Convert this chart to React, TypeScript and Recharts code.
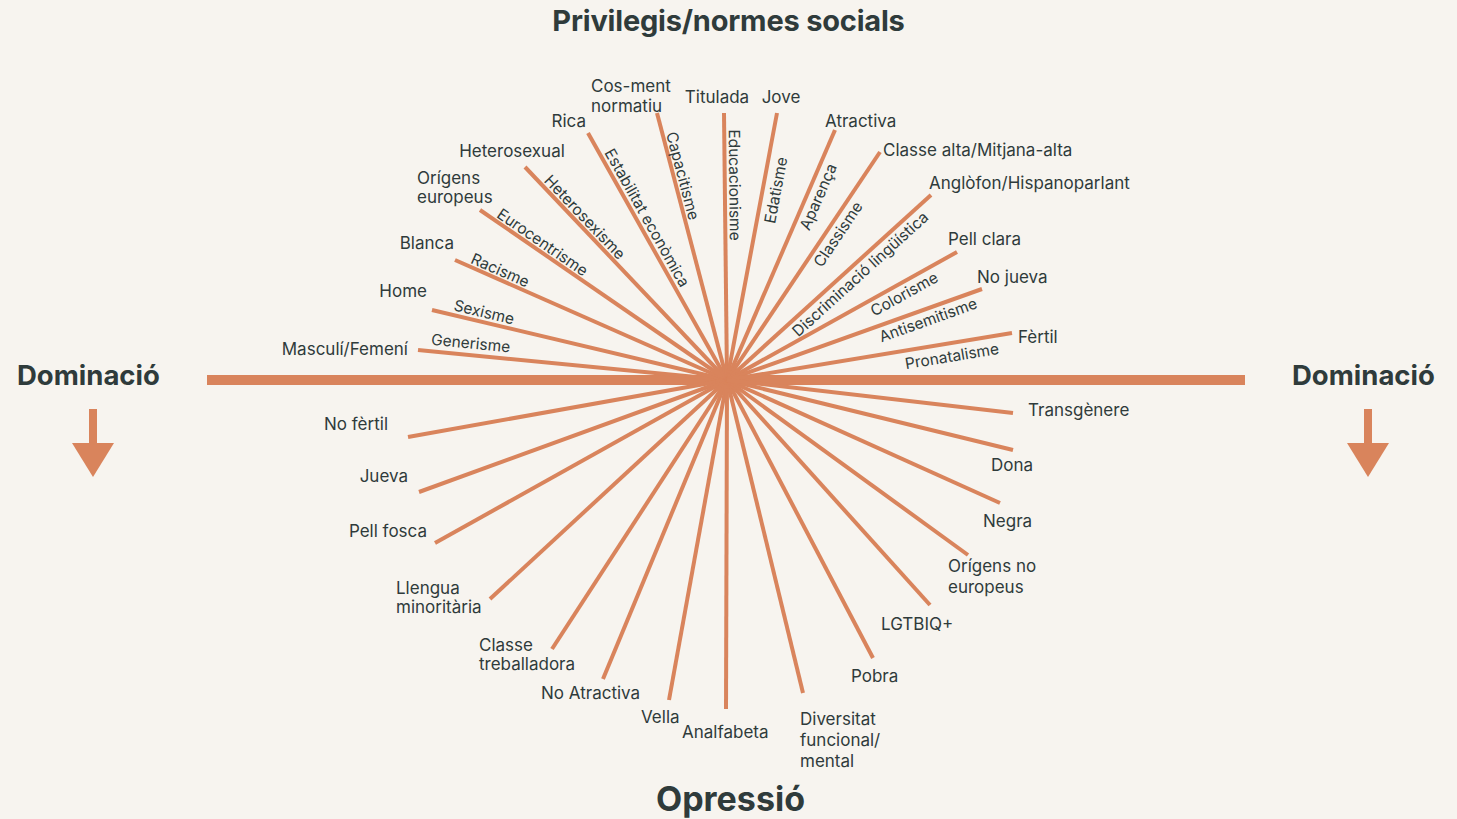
import React from 'react';
import {
  ScatterChart,
  Scatter,
  XAxis,
  YAxis,
  ReferenceLine,
} from 'recharts';

// upper half: privileges (end of each spoke, center = 0,0)
const privileges = [
  'Masculí/Femení', 'Home', 'Blanca', 'Orígens europeus', 'Heterosexual', 'Rica',
  'Cos-ment normatiu', 'Titulada', 'Jove', 'Atractiva', 'Classe alta/Mitjana-alta',
  'Anglòfon/Hispanoparlant', 'Pell clara', 'No jueva', 'Fèrtil',
];
const privilegeX = [-309, -295, -272, -247, -202, -139, -70, -3, 50, 108, 153, 204, 230, 255, 285];
const privilegeY = [30, 70, 120, 170, 213, 247, 267, 267, 267, 250, 228, 185, 128, 91, 47];

// name of the discrimination written along each privilege spoke
const discriminations = [
  'Generisme', 'Sexisme', 'Racisme', 'Eurocentrisme', 'Heterosexisme', 'Estabilitat econòmica',
  'Capacitisme', 'Educacionisme', 'Edatisme', 'Aparença', 'Classisme',
  'Discriminació lingüística', 'Colorisme', 'Antisemitisme', 'Pronatalisme',
];

// lower half: oppressions
const oppressions = [
  'No fèrtil', 'Jueva', 'Pell fosca', 'Llengua minoritària', 'Classe treballadora',
  'No Atractiva', 'Vella', 'Analfabeta', 'Diversitat funcional/ mental', 'Pobra',
  'LGTBIQ+', 'Orígens no europeus', 'Negra', 'Dona', 'Transgènere',
];
const oppressionX = [-319, -308, -292, -237, -175, -124, -58, -1, 76, 146, 203, 241, 273, 286, 286];
const oppressionY = [-57, -112, -163, -219, -269, -299, -320, -329, -313, -278, -225, -175, -123, -70, -33];

const ORANGE = '#d9845c';
const INK = '#2f3b3b';
const BG = '#f7f4ef';
const FONT = 'Inter, "Noto Sans", sans-serif';

// label placement relative to the spoke end: [dx, dy, anchor, lines, lineHeight]
type Place = [number, number, 'start' | 'middle' | 'end', string[], number?];
const endLabels: Record<string, Place> = {
  'Masculí/Femení': [-10, 5, 'end', ['Masculí/Femení']],
  Home: [-5, -13, 'end', ['Home']],
  Blanca: [-1, -11, 'end', ['Blanca']],
  'Orígens europeus': [-63, -26, 'start', ['Orígens', 'europeus'], 19],
  Heterosexual: [-13, -10, 'middle', ['Heterosexual']],
  Rica: [-2, -6, 'end', ['Rica']],
  'Cos-ment normatiu': [-66, -21, 'start', ['Cos-ment', 'normatiu'], 20],
  Titulada: [-7, -10, 'middle', ['Titulada']],
  Jove: [4, -10, 'middle', ['Jove']],
  Atractiva: [-10, -3, 'start', ['Atractiva']],
  'Classe alta/Mitjana-alta': [3, 4, 'start', ['Classe alta/Mitjana-alta']],
  'Anglòfon/Hispanoparlant': [-2, -6, 'start', ['Anglòfon/Hispanoparlant']],
  'Pell clara': [-9, -7, 'start', ['Pell clara']],
  'No jueva': [-5, -6, 'start', ['No jueva']],
  Fèrtil: [6, 10, 'start', ['Fèrtil']],
  'No fèrtil': [-20, -7, 'end', ['No fèrtil']],
  Jueva: [-11, -10, 'end', ['Jueva']],
  'Pell fosca': [-8, -6, 'end', ['Pell fosca']],
  'Llengua minoritària': [-94, -5, 'start', ['Llengua', 'minoritària'], 19],
  'Classe treballadora': [-73, 2, 'start', ['Classe', 'treballadora'], 19],
  'No Atractiva': [-62, 20, 'start', ['No Atractiva']],
  Vella: [-28, 23, 'start', ['Vella']],
  Analfabeta: [-44, 29, 'start', ['Analfabeta']],
  'Diversitat funcional/ mental': [-3, 32, 'start', ['Diversitat', 'funcional/', 'mental'], 21],
  Pobra: [-22, 24, 'start', ['Pobra']],
  'LGTBIQ+': [-49, 25, 'start', ['LGTBIQ+']],
  'Orígens no europeus': [-20, 17, 'start', ['Orígens no', 'europeus'], 21],
  Negra: [-17, 24, 'start', ['Negra']],
  Dona: [-22, 21, 'start', ['Dona']],
  Transgènere: [15, 3, 'start', ['Transgènere']],
};

// rotated labels: [fraction along spoke, perpendicular offset]
const alongLabels: Record<string, [number, number]> = {
  Generisme: [0.833, 12],
  Sexisme: [0.831, 10],
  Racisme: [0.847, 9],
  Eurocentrisme: [0.767, 9],
  Heterosexisme: [0.736, 9],
  'Estabilitat econòmica': [0.637, 10],
  Capacitisme: [0.756, 9],
  Educacionisme: [0.73, 10],
  Edatisme: [0.72, -13],
  Aparença: [0.751, -11],
  Classisme: [0.666, -11],
  'Discriminació lingüística': [0.617, -11],
  Colorisme: [0.747, -11],
  Antisemitisme: [0.774, -11],
  Pronatalisme: [0.782, -13],
};

const spokes = [
  ...privileges.map((name, i) => ({ name, x: privilegeX[i], y: privilegeY[i] })),
  ...oppressions.map((name, i) => ({ name, x: oppressionX[i], y: oppressionY[i] })),
];

const alongData = discriminations.map((name, i) => {
  const t = alongLabels[name][0];
  return { name, x: privilegeX[i] * t, y: privilegeY[i] * t, ex: privilegeX[i], ey: privilegeY[i] };
});

const EndLabel = (props: any) => {
  const { cx, cy, payload } = props;
  const p = endLabels[payload.name];
  if (!p) return null;
  const [dx, dy, anchor, lines, lh = 20] = p;
  return (
    <text x={cx + dx} y={cy + dy} textAnchor={anchor} fill={INK} fontSize={17} fontFamily={FONT}>
      {lines.map((l, i) => (
        <tspan key={l} x={cx + dx} dy={i === 0 ? 0 : lh}>{l}</tspan>
      ))}
    </text>
  );
};

const AlongLabel = (props: any) => {
  const { cx, cy, payload } = props;
  const perp = alongLabels[payload.name][1];
  const { ex, ey } = payload;
  // reading direction in screen space (1 unit = 1 px)
  const theta = ex <= 0 ? Math.atan2(ey, -ex) : Math.atan2(-ey, ex);
  const px = cx + perp * Math.sin(theta);
  const py = cy - perp * Math.cos(theta);
  const deg = (theta * 180) / Math.PI;
  return (
    <text
      x={px}
      y={py}
      textAnchor="middle"
      dominantBaseline="central"
      transform={`rotate(${deg} ${px} ${py})`}
      fill={INK}
      fontSize={15.5}
      fontFamily={FONT}
    >
      {payload.name}
    </text>
  );
};

const Arrow = ({ left }: { left: number }) => (
  <svg style={{ position: 'absolute', left, top: 409 }} width={44} height={70}>
    <rect x={18} y={0} width={8} height={36} fill={ORANGE} />
    <polygon points="1,34 43,34 22,68" fill={ORANGE} />
  </svg>
);

const titleStyle: React.CSSProperties = {
  position: 'absolute',
  fontFamily: FONT,
  fontWeight: 700,
  color: INK,
  whiteSpace: 'nowrap',
  lineHeight: 1,
};

export default function App() {
  return (
    <div
      style={{
        position: 'fixed',
        left: 0,
        top: 0,
        width: 1457,
        height: 819,
        background: BG,
        overflow: 'hidden',
      }}
    >
      <ScatterChart width={1457} height={819} margin={{ top: 0, right: 0, bottom: 0, left: 0 }}>
        <XAxis type="number" dataKey="x" domain={[-727, 730]} hide allowDataOverflow />
        <YAxis type="number" dataKey="y" domain={[-439, 380]} hide allowDataOverflow />
        <ReferenceLine
          segment={[{ x: -520, y: 0 }, { x: 518, y: 0 }]}
          stroke={ORANGE}
          strokeWidth={10}
        />
        {spokes.map((s) => (
          <ReferenceLine
            key={s.name}
            segment={[{ x: 0, y: 0 }, { x: s.x, y: s.y }]}
            stroke={ORANGE}
            strokeWidth={4}
          />
        ))}
        <Scatter data={spokes} shape={EndLabel} isAnimationActive={false} />
        <Scatter data={alongData} shape={AlongLabel} isAnimationActive={false} />
      </ScatterChart>

      <div style={{ ...titleStyle, left: 0, width: 1457, top: 6, textAlign: 'center', fontSize: 29, letterSpacing: -0.2 }}>
        Privilegis/normes socials
      </div>
      <div style={{ ...titleStyle, left: 2, width: 1457, top: 782, textAlign: 'center', fontSize: 34 }}>
        Opressió
      </div>
      <div style={{ ...titleStyle, left: 17, top: 362, fontSize: 27.5 }}>Dominació</div>
      <div style={{ ...titleStyle, left: 1292, top: 362, fontSize: 27.5 }}>Dominació</div>
      <Arrow left={71} />
      <Arrow left={1346} />
    </div>
  );
}
